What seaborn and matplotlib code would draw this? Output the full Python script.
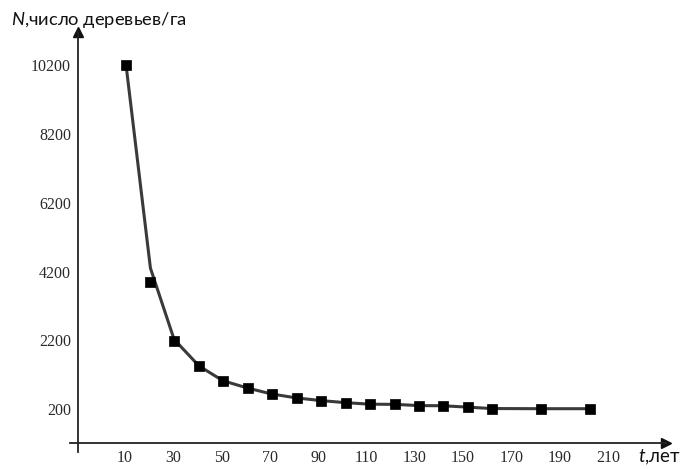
import matplotlib
matplotlib.use('Agg')
import matplotlib.pyplot as plt
import seaborn as sns
import pandas as pd

# ages (years) and tree density
t_years = [10.4, 20.5, 30.3, 40.6, 50.5, 60.8, 70.7, 81, 91.2, 101.5,
           111.4, 121.8, 131.7, 141.5, 152, 161.8, 182.3, 202.5]
n_observed = [10200, 3890, 2190, 1450, 1020, 810, 640, 525, 450, 390,
              345, 345, 305, 305, 260, 220, 215, 215]
n_model = [10200, 4300, 2230, 1460, 1030, 815, 645, 530, 452, 392,
           348, 343, 307, 303, 262, 222, 217, 217]

x_ticks = list(range(10, 211, 20))
y_major = list(range(200, 10201, 2000))
y_minor = list(range(1200, 9201, 2000))

df = pd.DataFrame({'t': t_years, 'obs': n_observed, 'model': n_model})

sns.set_style('white')
plt.rcParams['font.family'] = ['Liberation Serif', 'DejaVu Serif']
plt.rcParams['mathtext.fontset'] = 'custom'
plt.rcParams['mathtext.it'] = 'Lato:italic'

fig = plt.figure(figsize=(6.85, 4.69), dpi=100)
ax = fig.add_axes([0, 0, 1, 1])

sns.lineplot(data=df, x='t', y='model', ax=ax, color='#3a3a3a', linewidth=2.2)
sns.scatterplot(data=df, x='t', y='obs', ax=ax, marker='s', s=48,
                color='black', edgecolor='black', linewidth=0.5, zorder=3)

ax.set_xlim(-41.8, 241.9)
ax.set_ylim(-1534, 12086)

# axes drawn as crossing lines with arrows
x0, y0 = -9.5, -779
for s in ['top', 'right']:
    ax.spines[s].set_visible(False)
ax.spines['left'].set_position(('data', x0))
ax.spines['bottom'].set_position(('data', y0))
ax.spines['left'].set_bounds(-1040, 11150)
ax.spines['bottom'].set_bounds(-13, 234)
for s in ['left', 'bottom']:
    ax.spines[s].set_color('#222222')
    ax.spines[s].set_linewidth(1.3)
ax.plot([x0], [11150], marker='^', color='#111111', markersize=7, clip_on=False)
ax.plot([234], [y0], marker='>', color='#111111', markersize=7, clip_on=False)

ax.set_xticks(x_ticks)
ax.set_yticks(y_major)
ax.set_yticks(y_minor, minor=True)
ax.tick_params(axis='both', which='both', direction='inout', length=6,
               width=1.1, color='#222222', labelsize=11.5, labelcolor='#2a2a2a', pad=2)
ax.set_xlabel('')
ax.set_ylabel('')

fig.text(11 / 685, 1 - 20 / 469, r'$N$,число деревьев/га', fontsize=13.2,
         family=['Lato', 'DejaVu Sans'], ha='left', va='center', color='#111111')
fig.text(638 / 685, 1 - 457 / 469, r'$t$,лет', fontsize=13.5,
         family=['Lato', 'DejaVu Sans'], ha='left', va='center', color='#111111')

fig.savefig('out.png', dpi=100)
